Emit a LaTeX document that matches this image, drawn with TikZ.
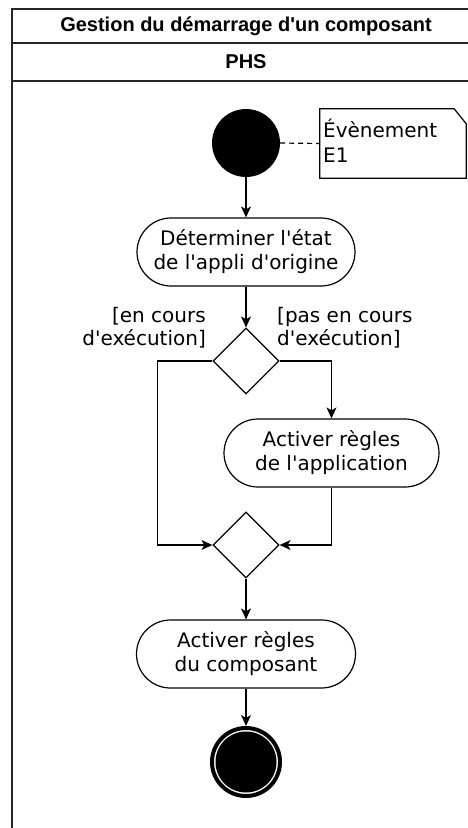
\documentclass[tikz,border=0pt]{standalone}
\usepackage{fontspec}
\setmainfont{DejaVu Sans}[Ligatures=TeXOff]
\newfontfamily\titlefont{Liberation Sans}[Ligatures=TeXOff]
\usetikzlibrary{shapes.geometric,arrows.meta}
\tikzset{
  frameline/.style={line width=1.5pt, draw=black!85},
  shapeline/.style={line width=1.2pt},
  actbox/.style={draw, shapeline, rectangle, rounded corners=34pt, minimum height=68pt, inner sep=0pt, align=center, font=\fontsize{20}{24}\selectfont},
  decbox/.style={draw, shapeline, diamond, minimum width=66pt, minimum height=66pt, inner sep=0pt},
  flow/.style={shapeline, -{Stealth[length=11pt,width=10pt,inset=3pt]}},
  guard/.style={inner sep=0pt, font=\fontsize{20}{23}\selectfont},
  headtext/.style={font=\titlefont\bfseries\fontsize{20}{24}\selectfont, inner sep=0pt}
}
\begin{document}
\begin{tikzpicture}[x=1pt,y=-1pt]
\useasboundingbox (0,0) rectangle (468,828);
% frame
\draw[frameline] (480,9) -- (12,9) -- (12,840);
\draw[frameline] (12,43) -- (480,43);
\draw[frameline] (12,81) -- (480,81);
\node[headtext] (title) at (246,26.5) {Gestion du démarrage d'un composant};
\node[headtext] (lane) at (246,62) {PHS};
% start
\node[circle, fill=black, minimum size=68pt, inner sep=0pt] (start) at (246,143) {};
% note
\node[rectangle, minimum width=146pt, minimum height=69pt, inner sep=0pt] (note) at (393,143.5) {};
\draw[shapeline, fill=white] (note.north west) -- ([xshift=-12pt]note.north east) -- ([yshift=-15pt]note.north east) -- (note.south east) -- (note.south west) -- cycle;
\node[anchor=north west, inner sep=0pt, align=left, font=\fontsize{20}{25}\selectfont] (notetext) at (323,119) {Évènement\\E1};
\draw[shapeline, dashed, dash pattern=on 5pt off 4pt] (start.east) -- (note.west);
% activities
\node[actbox, minimum width=218pt] (act1) at (246,252) {Déterminer l'état\\de l'appli d'origine};
\node[decbox] (dec1) at (246,361) {};
\node[actbox, minimum width=215pt] (act2) at (331.5,453) {Activer règles\\de l'application};
\node[decbox] (merge) at (246,545) {};
\node[actbox, minimum width=219pt] (act3) at (246,654) {Activer règles\\du composant};
% end
\node[circle, draw=black, line width=4pt, fill=white, minimum size=68pt, inner sep=0pt] (end) at (246,762) {};
\node[circle, fill=black, minimum size=61pt, inner sep=0pt] (endcore) at (246,762) {};
% guards
\node[guard, anchor=east, align=right] (g1) at (206,328) {[en cours\\d'exécution]};
\node[guard, anchor=west, align=left] (g2) at (277,328) {[pas en cours\\d'exécution]};
% flows
\draw[flow] (start.south) -- (act1.north);
\draw[flow] (act1.south) -- (dec1.north);
\draw[flow] (dec1.west) -- ++(-55,0) |- (merge.west);
\draw[flow] (dec1.east) -| (act2.north);
\draw[flow] (act2.south) |- (merge.east);
\draw[flow] (merge.south) -- (act3.north);
\draw[flow] (act3.south) -- (end.north);
\end{tikzpicture}
\end{document}
